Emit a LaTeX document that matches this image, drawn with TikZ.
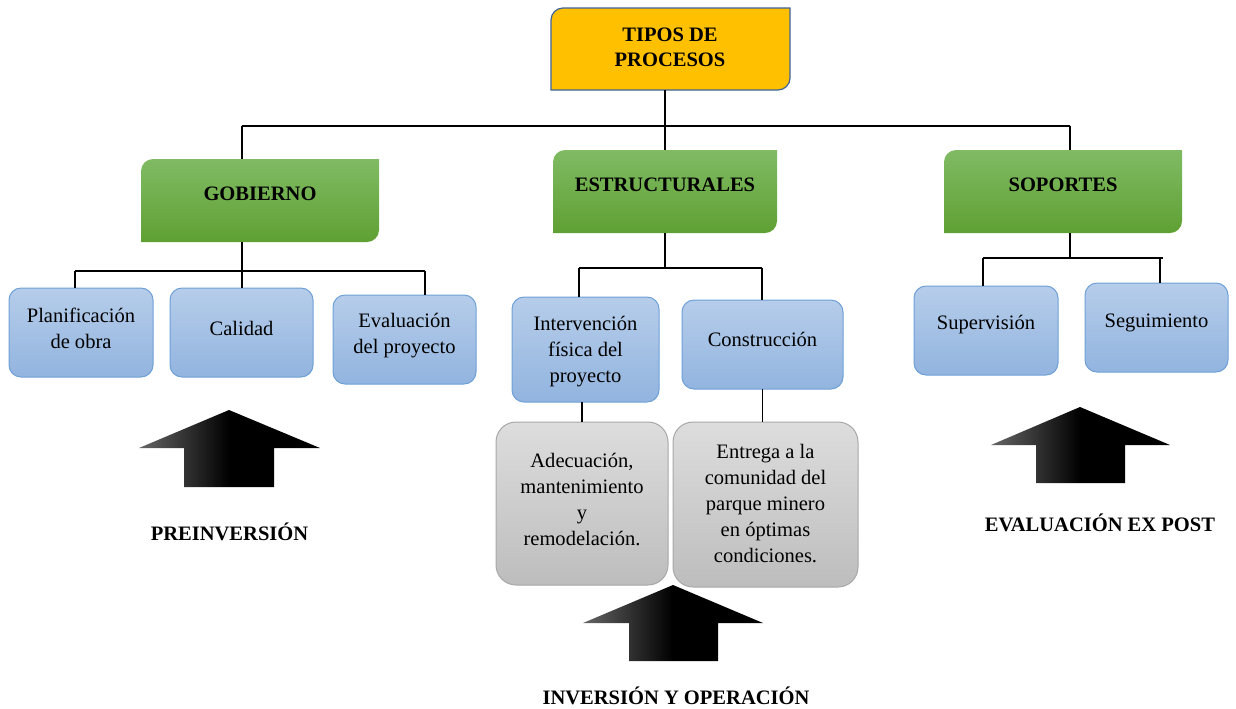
\documentclass[tikz,border=0pt]{standalone}
\usepackage{fontspec}
\setmainfont{Liberation Serif}
\usetikzlibrary{calc}
\definecolor{yel}{HTML}{FFC000}
\definecolor{yelline}{HTML}{3F6397}
\definecolor{grtop}{HTML}{80BB64}
\definecolor{grbot}{HTML}{5FA033}
\definecolor{bltop}{HTML}{B6CDEA}
\definecolor{blbot}{HTML}{92B4DF}
\definecolor{blline}{HTML}{6EA0D6}
\definecolor{gytop}{HTML}{DDDDDD}
\definecolor{gybot}{HTML}{BDBDBD}
\definecolor{gyline}{HTML}{A8A8A8}
\newcommand\diagshape[2]{\path[#2] (#1.south west) -- ([yshift=-9pt]#1.north west) arc[start angle=180,end angle=90,radius=9pt] -- (#1.north east) -- ([yshift=9pt]#1.south east) arc[start angle=0,end angle=-90,radius=9pt] -- cycle;}
\tikzset{
  base/.style={inner sep=0pt, outer sep=0pt},
  txt/.style={align=center, inner sep=1pt, font=\fontsize{15.4pt}{19.5pt}\selectfont},
  btxt/.style={align=center, inner sep=1pt, font=\fontsize{15.4pt}{19pt}\selectfont\bfseries},
  bluebox/.style={base, draw=blline, line width=0.75pt, rounded corners=9pt, top color=bltop, bottom color=blbot},
  graybox/.style={base, draw=gyline, line width=0.75pt, rounded corners=15pt, top color=gytop, bottom color=gybot},
  greenfill/.style={top color=grtop, bottom color=grbot},
  yellowfill/.style={fill=yel, draw=yelline, line width=0.9pt},
  arrowfill/.style={left color=black!60, right color=black, middle color=black},
  conn/.style={draw=black, line width=0.8pt},
}
\begin{document}
\begin{tikzpicture}[x=0.75pt, y=0.75pt]
\useasboundingbox (0,0) rectangle (1236,-708);
% top box
\node[base, minimum width=179.25pt, minimum height=61.5pt] (top) at (670.5,-49) {};
\diagshape{top}{yellowfill}
\node[btxt] (topt) at (670,-47) {TIPOS DE\\PROCESOS};
% green boxes
\node[base, minimum width=178.5pt, minimum height=62.25pt] (gob) at (260,-200.5) {};
\diagshape{gob}{greenfill}
\node[btxt] (gobt) at (260,-194) {GOBIERNO};
\node[base, minimum width=168pt, minimum height=62.25pt] (est) at (665,-191.5) {};
\diagshape{est}{greenfill}
\node[btxt] (estt) at (665,-185) {ESTRUCTURALES};
\node[base, minimum width=178.5pt, minimum height=62.25pt] (sop) at (1063,-191.5) {};
\diagshape{sop}{greenfill}
\node[btxt] (sopt) at (1063,-185) {SOPORTES};
% blue boxes
\node[bluebox, minimum width=108pt, minimum height=66.75pt] (pla) at (81,-332.5) {};
\node[txt] (plat) at (81,-328) {Planificación\\de obra};
\node[bluebox, minimum width=107.25pt, minimum height=66.75pt] (cal) at (241.5,-332.5) {};
\node[txt] (calt) at (241.5,-328) {Calidad};
\node[bluebox, minimum width=107.25pt, minimum height=66.75pt] (eva) at (404.5,-339.5) {};
\node[txt] (evat) at (404.5,-336) {Evaluación\\del proyecto};
\node[bluebox, minimum width=110.25pt, minimum height=78.75pt] (int) at (585.5,-349.5) {};
\node[txt] (intt) at (585.5,-352) {Intervención\\física del\\proyecto};
\node[bluebox, minimum width=120.75pt, minimum height=66.75pt] (con) at (762.5,-344.5) {};
\node[txt] (cont) at (762.5,-339) {Construcción};
\node[bluebox, minimum width=108pt, minimum height=66.75pt] (sup) at (986,-330.5) {};
\node[txt] (supt) at (986,-325) {Supervisión};
\node[bluebox, minimum width=107.25pt, minimum height=66.75pt] (seg) at (1156.5,-327.5) {};
\node[txt] (segt) at (1156.5,-323) {Seguimiento};
% gray boxes
\node[graybox, minimum width=129pt, minimum height=122.25pt] (ade) at (582,-503.5) {};
\node[txt] (adet) at (582,-499) {Adecuación,\\mantenimiento\\y\\remodelación.};
\node[graybox, minimum width=138.75pt, minimum height=123.75pt] (ent) at (765.5,-504.5) {};
\node[txt] (entt) at (765.5,-504) {Entrega a la\\comunidad del\\parque minero\\en óptimas\\condiciones.};
% connectors level 1
\coordinate (b0) at (665,-126);
\coordinate (bl) at (242,-126);
\coordinate (br) at (1070,-126);
\draw[conn] (top.south -| b0) -- (b0);
\draw[conn] (bl) -- (br);
\draw[conn] (bl) -- (bl |- gob.north);
\draw[conn] (b0) -- (b0 |- est.north);
\draw[conn] (br) -- (br |- sop.north);
% gobierno children
\coordinate (g0) at (242,-271);
\coordinate (gl) at (75,-271);
\coordinate (gr) at (425,-271);
\draw[conn] (gl) -- (gr);
\draw[conn] (g0 |- gob.south) -- (g0 |- cal.north);
\draw[conn] (gl) -- (gl |- pla.north);
\draw[conn] (gr) -- (gr |- eva.north);
% estructurales children
\coordinate (e0) at (665,-268);
\coordinate (el) at (579,-268);
\coordinate (er) at (762,-268);
\draw[conn] (e0 |- est.south) -- (e0);
\draw[conn] (el) -- (er);
\draw[conn] (el) -- (el |- int.north);
\draw[conn] (er) -- (er |- con.north);
\draw[conn] (ade.north |- int.south) -- (ade.north);
\draw[conn] (con.south) -- (con.south |- ent.north);
% soportes children
\coordinate (s0) at (1070,-258);
\coordinate (sl) at (983,-258);
\coordinate (sr) at (1163,-258);
\coordinate (sr2) at (1160,-258);
\draw[conn] (s0 |- sop.south) -- (s0);
\draw[conn] (sl) -- (sr);
\draw[conn] (sl) -- (sl |- sup.north);
\draw[conn] (sr2) -- (sr2 |- seg.north);
% arrows
\path[arrowfill] (229,-410) -- (320,-448) -- (274,-448) -- (274,-487) -- (184,-487) -- (184,-448) -- (139,-448) -- cycle;
\path[arrowfill] (673,-585) -- (763,-623) -- (718,-623) -- (718,-661) -- (629,-661) -- (629,-623) -- (583,-623) -- cycle;
\path[arrowfill] (1080,-407) -- (1170,-445) -- (1125,-445) -- (1125,-483) -- (1036,-483) -- (1036,-445) -- (991,-445) -- cycle;
% labels
\node[btxt] (pre) at (229.5,-532) {PREINVERSIÓN};
\node[btxt] (inv) at (676,-696) {INVERSIÓN Y OPERACIÓN};
\node[btxt] (evp) at (1100,-523) {EVALUACIÓN EX POST};
\end{tikzpicture}
\end{document}
